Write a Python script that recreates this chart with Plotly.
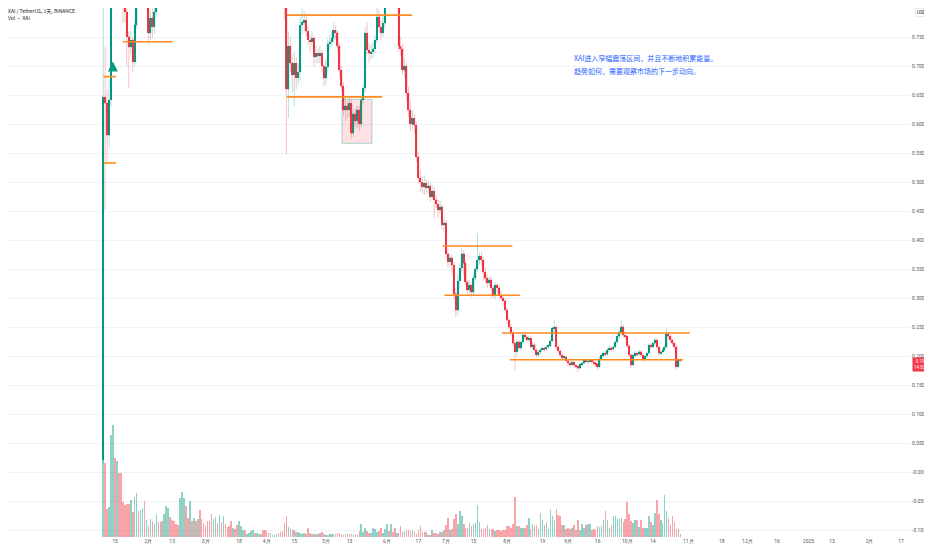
import pandas as pd
import plotly.graph_objects as go

# XAI / TetherUS 日线 (BINANCE), 2024-01-09 ~ 2024-10-28
first_open = 0.021

close = [
    0.647, 0.636, 0.581, 0.642, 0.880, 0.950, 0.905, 0.930, 0.885, 0.845,
    0.810, 0.794, 0.751, 0.733, 0.745, 0.708, 0.771, 0.850, 0.830, 0.870,
    0.900, 0.860, 0.880, 0.757, 0.783, 0.768, 0.794, 0.860, 0.845, 0.870,
    0.850, 0.880, 0.930, 0.980, 0.950, 0.930, 0.910, 0.890, 0.870, 0.950,
    1.050, 1.120, 1.060, 1.030, 1.100, 1.070, 1.110, 1.080, 1.140, 1.100,
    1.070, 1.050, 1.020, 1.000, 0.970, 0.930, 0.970, 1.010, 0.980, 1.030,
    1.000, 1.040, 1.010, 0.980, 0.960, 0.930, 0.950, 0.930, 0.910, 0.940,
    0.960, 0.980, 0.960, 0.970, 0.990, 1.010, 1.030, 1.010, 1.020, 1.040,
    1.010, 0.980, 0.950, 0.930, 0.950, 0.930, 0.940, 0.950, 0.960, 0.940,
    0.920, 0.880, 0.800, 0.660, 0.735, 0.705, 0.685, 0.705, 0.680, 0.690,
    0.771, 0.776, 0.779, 0.760, 0.745, 0.742, 0.748, 0.716, 0.722, 0.718,
    0.722, 0.700, 0.679, 0.699, 0.739, 0.742, 0.748, 0.762, 0.758, 0.734,
    0.693, 0.665, 0.624, 0.632, 0.625, 0.636, 0.584, 0.618, 0.605, 0.625,
    0.600, 0.642, 0.662, 0.757, 0.728, 0.722, 0.725, 0.730, 0.745, 0.785,
    0.768, 0.757, 0.774, 0.840, 0.870, 0.850, 0.885, 0.860, 0.845, 0.860,
    0.734, 0.730, 0.693, 0.700, 0.653, 0.625, 0.600, 0.610, 0.598, 0.544,
    0.507, 0.500, 0.492, 0.498, 0.490, 0.494, 0.475, 0.485, 0.470, 0.462,
    0.452, 0.458, 0.426, 0.430, 0.377, 0.363, 0.370, 0.357, 0.308, 0.279,
    0.330, 0.352, 0.377, 0.360, 0.328, 0.315, 0.322, 0.310, 0.335, 0.350,
    0.365, 0.372, 0.366, 0.345, 0.334, 0.326, 0.332, 0.318, 0.304, 0.322,
    0.318, 0.305, 0.300, 0.296, 0.280, 0.262, 0.250, 0.240, 0.222, 0.208,
    0.225, 0.214, 0.224, 0.237, 0.233, 0.228, 0.231, 0.216, 0.220, 0.211,
    0.202, 0.207, 0.211, 0.214, 0.212, 0.216, 0.218, 0.226, 0.248, 0.250,
    0.216, 0.209, 0.202, 0.197, 0.199, 0.192, 0.188, 0.185, 0.190, 0.184,
    0.182, 0.179, 0.186, 0.188, 0.193, 0.190, 0.191, 0.193, 0.190, 0.188,
    0.186, 0.182, 0.196, 0.202, 0.205, 0.203, 0.211, 0.214, 0.212, 0.216,
    0.225, 0.234, 0.242, 0.251, 0.236, 0.234, 0.218, 0.202, 0.185, 0.202,
    0.205, 0.203, 0.208, 0.202, 0.196, 0.200, 0.205, 0.219, 0.216, 0.222,
    0.228, 0.216, 0.205, 0.208, 0.211, 0.216, 0.239, 0.234, 0.228, 0.222,
    0.216, 0.182, 0.194, 0.1921,
]

high = [
    0.860, 0.733, 0.660, 0.675, 0.920, 1.000, 0.975, 0.960, 0.940, 0.900,
    0.870, 0.830, 0.810, 0.760, 0.760, 0.750, 0.780, 0.880, 0.870, 0.890,
    0.930, 0.910, 0.900, 0.890, 0.795, 0.800, 0.805, 0.880, 0.875, 0.890,
    0.885, 0.900, 0.950, 1.010, 0.995, 0.970, 0.945, 0.925, 0.900, 0.970,
    1.080, 1.160, 1.140, 1.080, 1.130, 1.120, 1.140, 1.130, 1.170, 1.160,
    1.120, 1.090, 1.070, 1.040, 1.020, 0.990, 0.990, 1.040, 1.030, 1.060,
    1.050, 1.070, 1.060, 1.030, 1.000, 0.980, 0.970, 0.970, 0.950, 0.960,
    0.980, 1.000, 0.990, 0.990, 1.010, 1.030, 1.060, 1.050, 1.040, 1.070,
    1.050, 1.030, 1.000, 0.970, 0.970, 0.960, 0.960, 0.970, 0.980, 0.970,
    0.950, 0.930, 0.900, 0.820, 0.760, 0.750, 0.720, 0.725, 0.715, 0.705,
    0.785, 0.800, 0.795, 0.790, 0.768, 0.755, 0.760, 0.752, 0.735, 0.730,
    0.735, 0.728, 0.705, 0.712, 0.748, 0.755, 0.760, 0.775, 0.770, 0.762,
    0.740, 0.700, 0.672, 0.645, 0.640, 0.648, 0.642, 0.625, 0.628, 0.632,
    0.632, 0.650, 0.672, 0.768, 0.775, 0.740, 0.738, 0.742, 0.755, 0.800,
    0.798, 0.778, 0.785, 0.860, 0.900, 0.885, 0.910, 0.900, 0.875, 0.880,
    0.875, 0.750, 0.738, 0.712, 0.705, 0.665, 0.640, 0.625, 0.618, 0.605,
    0.552, 0.522, 0.510, 0.512, 0.505, 0.502, 0.500, 0.495, 0.492, 0.478,
    0.470, 0.468, 0.462, 0.440, 0.435, 0.385, 0.378, 0.375, 0.362, 0.318,
    0.340, 0.360, 0.385, 0.382, 0.365, 0.332, 0.330, 0.325, 0.340, 0.356,
    0.412, 0.378, 0.380, 0.370, 0.352, 0.340, 0.338, 0.336, 0.322, 0.328,
    0.326, 0.322, 0.312, 0.304, 0.300, 0.284, 0.266, 0.256, 0.244, 0.226,
    0.230, 0.228, 0.228, 0.242, 0.242, 0.236, 0.236, 0.233, 0.225, 0.223,
    0.214, 0.210, 0.214, 0.218, 0.217, 0.219, 0.221, 0.230, 0.252, 0.262,
    0.253, 0.220, 0.212, 0.205, 0.202, 0.201, 0.195, 0.192, 0.193, 0.192,
    0.187, 0.185, 0.189, 0.191, 0.196, 0.196, 0.194, 0.196, 0.195, 0.193,
    0.191, 0.189, 0.199, 0.205, 0.209, 0.208, 0.214, 0.218, 0.217, 0.219,
    0.228, 0.238, 0.246, 0.262, 0.255, 0.242, 0.237, 0.221, 0.205, 0.206,
    0.209, 0.208, 0.211, 0.210, 0.205, 0.203, 0.208, 0.222, 0.223, 0.225,
    0.232, 0.230, 0.218, 0.211, 0.214, 0.219, 0.248, 0.242, 0.237, 0.230,
    0.224, 0.219, 0.197, 0.197,
]

low = [
    0.015, 0.452, 0.533, 0.560, 0.630, 0.860, 0.880, 0.890, 0.860, 0.830,
    0.775, 0.775, 0.700, 0.662, 0.720, 0.690, 0.700, 0.765, 0.820, 0.825,
    0.860, 0.840, 0.845, 0.738, 0.745, 0.748, 0.755, 0.785, 0.830, 0.835,
    0.835, 0.840, 0.870, 0.920, 0.930, 0.910, 0.890, 0.870, 0.850, 0.860,
    0.940, 1.030, 1.040, 1.000, 1.020, 1.050, 1.060, 1.060, 1.070, 1.080,
    1.050, 1.020, 0.990, 0.970, 0.950, 0.900, 0.910, 0.950, 0.960, 0.970,
    0.980, 0.990, 0.990, 0.960, 0.940, 0.900, 0.910, 0.900, 0.880, 0.890,
    0.920, 0.940, 0.940, 0.940, 0.950, 0.970, 0.990, 0.990, 0.990, 1.000,
    0.990, 0.960, 0.930, 0.900, 0.910, 0.900, 0.910, 0.920, 0.930, 0.910,
    0.900, 0.860, 0.780, 0.547, 0.610, 0.690, 0.655, 0.630, 0.660, 0.668,
    0.675, 0.755, 0.760, 0.752, 0.738, 0.725, 0.732, 0.700, 0.705, 0.705,
    0.705, 0.690, 0.665, 0.668, 0.690, 0.728, 0.735, 0.740, 0.745, 0.725,
    0.685, 0.655, 0.615, 0.605, 0.610, 0.612, 0.575, 0.578, 0.595, 0.593,
    0.588, 0.595, 0.635, 0.655, 0.720, 0.705, 0.712, 0.715, 0.722, 0.740,
    0.758, 0.745, 0.750, 0.765, 0.830, 0.835, 0.840, 0.850, 0.830, 0.835,
    0.725, 0.718, 0.685, 0.680, 0.640, 0.612, 0.588, 0.592, 0.585, 0.535,
    0.498, 0.485, 0.480, 0.478, 0.482, 0.480, 0.465, 0.470, 0.438, 0.455,
    0.440, 0.445, 0.418, 0.415, 0.370, 0.352, 0.355, 0.340, 0.300, 0.266,
    0.272, 0.318, 0.345, 0.340, 0.322, 0.305, 0.308, 0.302, 0.305, 0.330,
    0.345, 0.358, 0.355, 0.330, 0.325, 0.318, 0.320, 0.300, 0.300, 0.298,
    0.308, 0.300, 0.294, 0.288, 0.274, 0.256, 0.245, 0.234, 0.218, 0.176,
    0.200, 0.210, 0.210, 0.220, 0.229, 0.224, 0.225, 0.212, 0.212, 0.208,
    0.198, 0.199, 0.204, 0.208, 0.208, 0.210, 0.213, 0.216, 0.224, 0.240,
    0.212, 0.205, 0.198, 0.193, 0.194, 0.188, 0.184, 0.181, 0.183, 0.180,
    0.178, 0.172, 0.177, 0.183, 0.185, 0.187, 0.187, 0.188, 0.186, 0.184,
    0.182, 0.176, 0.180, 0.193, 0.199, 0.200, 0.201, 0.207, 0.208, 0.209,
    0.213, 0.222, 0.230, 0.238, 0.232, 0.229, 0.214, 0.199, 0.180, 0.183,
    0.198, 0.199, 0.200, 0.198, 0.190, 0.193, 0.197, 0.202, 0.212, 0.213,
    0.219, 0.213, 0.201, 0.202, 0.205, 0.208, 0.214, 0.229, 0.224, 0.218,
    0.212, 0.176, 0.180, 0.189,
]

# 成交量 (百万 XAI)
volume = [
    84, 74, 28, 30, 102, 112, 79, 76, 64, 64,
    35, 32, 33, 33, 37, 25, 40, 44, 26, 27,
    29, 36, 17, 11, 18, 16, 13, 23, 15, 15,
    16, 23, 31, 29, 20, 17, 16, 13, 12, 39,
    45, 39, 31, 19, 36, 16, 19, 16, 18, 27,
    18, 14, 11, 16, 16, 23, 18, 20, 14, 22,
    15, 21, 13, 10, 11, 16, 9, 8, 12, 16,
    11, 7, 7, 3, 4, 6, 7, 4, 4, 3,
    3, 7, 7, 6, 4, 4, 2, 2, 3, 4,
    5, 6, 14, 21, 10, 8, 7, 7, 5, 5,
    4, 3, 4, 3, 9, 4, 3, 3, 3, 3,
    4, 5, 3, 2, 2, 3, 3, 3, 3, 4,
    4, 3, 2, 3, 3, 3, 3, 2, 2, 2,
    6, 13, 5, 9, 6, 4, 4, 9, 8, 5,
    6, 9, 4, 8, 13, 6, 13, 5, 9, 4,
    4, 11, 5, 6, 7, 7, 6, 7, 5, 3,
    7, 11, 5, 5, 5, 2, 2, 7, 4, 4,
    3, 5, 5, 7, 12, 19, 7, 8, 18, 23,
    13, 26, 21, 13, 9, 9, 14, 11, 13, 14,
    32, 15, 8, 8, 9, 12, 8, 7, 8, 6,
    7, 7, 6, 7, 7, 11, 11, 9, 13, 40,
    11, 11, 9, 9, 9, 12, 19, 8, 13, 11,
    12, 8, 24, 17, 12, 15, 8, 27, 21, 17,
    28, 22, 21, 12, 12, 8, 9, 8, 9, 12,
    7, 17, 7, 13, 9, 12, 13, 13, 7, 8,
    7, 11, 10, 11, 17, 26, 17, 9, 12, 21,
    21, 18, 18, 19, 15, 18, 35, 23, 16, 14,
    17, 17, 10, 17, 9, 9, 9, 21, 15, 12,
    24, 37, 23, 17, 14, 42, 26, 19, 12, 21,
    15, 8, 8, 3,
]

# 手绘的水平线 (起点, 终点, 价格)
level_lines = [
    ('2024-01-09 02:00', '2024-01-15 12:00', 0.682),
    ('2024-01-09 06:00', '2024-01-15 12:00', 0.533),
    ('2024-01-18 22:00', '2024-02-13 07:00', 0.742),
    ('2024-04-11 07:00', '2024-06-13 19:00', 0.788),
    ('2024-04-11 07:00', '2024-05-29 12:00', 0.647),
    ('2024-06-29 07:00', '2024-08-03 17:00', 0.390),
    ('2024-06-30 05:00', '2024-08-07 14:00', 0.305),
    ('2024-07-29 10:00', '2024-11-01 19:00', 0.240),
    ('2024-08-02 10:00', '2024-10-29 07:00', 0.194),
]
box = ('2024-05-09 05:00', '2024-05-24 10:00', 0.567, 0.643)
arrow_at = ('2024-01-13 22:00', 0.708)

x_tick_dates = ['2024-01-15', '2024-02-01', '2024-02-13', '2024-03-01', '2024-03-18',
                '2024-04-01', '2024-04-15', '2024-05-01', '2024-05-13', '2024-06-01',
                '2024-06-17', '2024-07-01', '2024-07-15', '2024-08-01', '2024-08-19',
                '2024-09-01', '2024-09-16', '2024-10-01', '2024-10-14', '2024-11-01',
                '2024-11-18', '2024-12-01', '2024-12-16', '2025-01-01', '2025-01-13',
                '2025-02-01', '2025-02-17']
x_tick_text = ['15', '2月', '13', '3月', '18', '4月', '15', '5月', '13', '6月', '17', '7月',
               '15', '8月', '19', '9月', '16', '10月', '14', '11月', '18', '12月', '16',
               '2025', '13', '2月', '17']
y_tick_vals = [0.80, 0.75, 0.70, 0.65, 0.60, 0.55, 0.50, 0.45, 0.40, 0.35, 0.30,
               0.25, 0.20, 0.15, 0.10, 0.05, 0.0, -0.05, -0.10]
y_tick_text = ['', '0.7500', '0.7000', '0.6500', '0.6000', '0.5500', '0.5000', '0.4500',
               '0.4000', '0.3500', '0.3000', '0.2500', '0.2000', '0.1500', '0.1000',
               '0.0500', '-0.0000', '-0.0500', '-0.1000']

UP = '#089981'
DOWN = '#F23645'
DAY_MS = 86400000
PLOT_W, PLOT_H = 903, 529   # 绘图区像素尺寸

dates = pd.date_range('2024-01-09', periods=len(close), freq='D')
open_ = [first_open] + close[:-1]
is_up = [c >= o for o, c in zip(open_, close)]

fig = go.Figure()

# 成交量 (叠加在底部)
fig.add_trace(go.Bar(
    x=dates, y=volume, yaxis='y2', width=0.8 * DAY_MS,
    marker=dict(color=['rgba(8,153,129,0.45)' if u else 'rgba(242,54,69,0.45)' for u in is_up],
                line=dict(width=0)),
    hoverinfo='skip'))

# 影线 (浅色)
fig.add_trace(go.Candlestick(
    x=dates, open=open_, high=high, low=low, close=close,
    increasing=dict(line=dict(color='rgba(8,153,129,0.3)', width=1), fillcolor='rgba(8,153,129,0.3)'),
    decreasing=dict(line=dict(color='rgba(242,54,69,0.3)', width=1), fillcolor='rgba(242,54,69,0.3)'),
    whiskerwidth=0, hoverinfo='skip'))

# 实体
fig.add_trace(go.Bar(
    x=dates, y=[c - o for o, c in zip(open_, close)], base=open_, width=0.7 * DAY_MS,
    marker=dict(color=[UP if u else DOWN for u in is_up], line=dict(width=0)),
    hoverinfo='skip'))

for x0, x1, price in level_lines:
    fig.add_shape(type='line', xref='x', yref='y', x0=x0, x1=x1, y0=price, y1=price,
                  line=dict(color='#FF8A1F', width=1.6))

fig.add_shape(type='rect', xref='x', yref='y', x0=box[0], x1=box[1], y0=box[2], y1=box[3],
              fillcolor='rgba(242,54,69,0.15)', line=dict(color='rgba(8,153,129,0.35)', width=1))

fig.add_annotation(x=arrow_at[0], y=arrow_at[1], xref='x', yref='y', text='',
                   showarrow=True, ax=0, ay=11, arrowhead=2, arrowsize=1,
                   arrowwidth=2, arrowcolor=UP)

# 说明文字
fig.add_annotation(x=564 / PLOT_W, y=1 - 50 / PLOT_H, xref='paper', yref='paper',
                   text='XAI进入窄幅震荡区间，并且不断地积累能量。', showarrow=False,
                   xanchor='left', yanchor='middle',
                   font=dict(family='Noto Sans CJK SC', size=7, color='#2962FF'))
fig.add_annotation(x=564 / PLOT_W, y=1 - 63 / PLOT_H, xref='paper', yref='paper',
                   text='趋势如何，需要观察市场的下一步动向。', showarrow=False,
                   xanchor='left', yanchor='middle',
                   font=dict(family='Noto Sans CJK SC', size=7, color='#2962FF'))

# 左上角图例
fig.add_annotation(x=0, y=1 - 3 / PLOT_H, xref='paper', yref='paper',
                   text='XAI / TetherUS, 1天, BINANCE', showarrow=False,
                   xanchor='left', yanchor='middle', xshift=-2,
                   font=dict(family='Noto Sans CJK SC', size=5, color='#131722'))
fig.add_annotation(x=0, y=1 - 10 / PLOT_H, xref='paper', yref='paper',
                   text='Vol · XAI', showarrow=False, xanchor='left', yanchor='middle',
                   xshift=-2, font=dict(family='Noto Sans CJK SC', size=5, color='#131722'))

# 右侧价格标签
fig.add_annotation(x=1, y=1, xref='paper', yref='paper', text='USDT', showarrow=False,
                   xanchor='left', yanchor='top', xshift=4, yshift=0,
                   bordercolor='#d1d4dc', borderwidth=0.5, borderpad=1.5,
                   font=dict(family='Roboto', size=4.5, color='#131722'))
fig.add_annotation(x=1, y=close[-1], xref='paper', yref='y',
                   text=f'{close[-1]:.4f}<br>14:03:45', showarrow=False,
                   xanchor='left', yanchor='top', xshift=1, yshift=4, bgcolor=DOWN, borderpad=1,
                   font=dict(family='Roboto', size=4.5, color='white'))

fig.update_layout(
    width=924, height=542,
    margin=dict(l=0, r=21, t=0, b=13),
    paper_bgcolor='white', plot_bgcolor='white',
    showlegend=False, barmode='overlay', bargap=0,
    xaxis=dict(type='date', range=['2023-11-21 16:30', '2025-02-22 01:00'],
               tickvals=x_tick_dates, ticktext=x_tick_text, showgrid=False,
               zeroline=False, ticks='', rangeslider=dict(visible=False),
               tickfont=dict(family='Roboto', size=5, color='#555')),
    yaxis=dict(side='right', range=[-0.1117, 0.8003], tickvals=y_tick_vals,
               ticktext=y_tick_text, showgrid=True, gridcolor='#f2f3f6', gridwidth=1,
               zeroline=False, ticks='', tickfont=dict(family='Roboto', size=5, color='#555')),
    yaxis2=dict(overlaying='y', range=[0, PLOT_H], visible=False),
)

fig.write_html('out.html')
